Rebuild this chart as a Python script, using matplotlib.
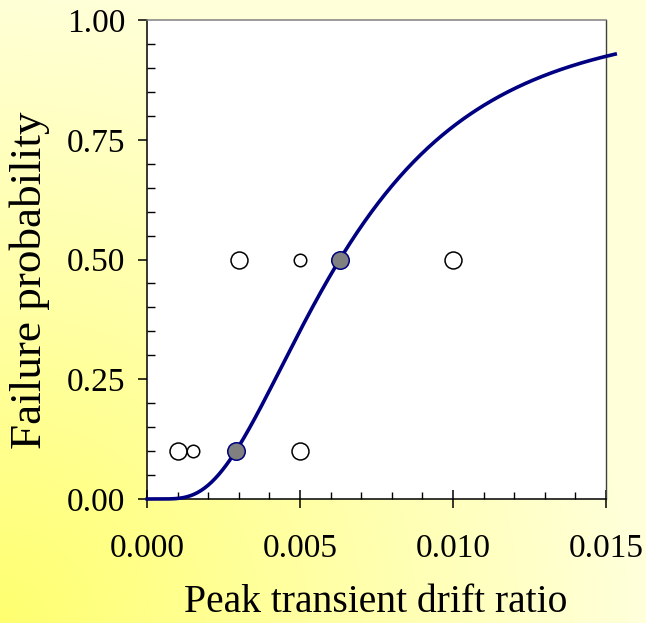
import math
import numpy as np
import matplotlib
matplotlib.use("Agg")
from matplotlib import pyplot as plt
from matplotlib.ticker import MultipleLocator, FormatStrFormatter

# observed points (drift ratio, failure probability)
big_x = [0.001, 0.003, 0.005, 0.010]
big_y = [0.10, 0.50, 0.10, 0.50]
small_x = [0.0015, 0.005]
small_y = [0.10, 0.50]
fit_x = [0.0029, 0.0063]
fit_y = [0.10, 0.50]

# lognormal fragility: median drift and log std
median = 0.0063
beta = 0.605

plt.rcParams['font.family'] = ['Liberation Serif', 'DejaVu Serif']

fig = plt.figure(figsize=(6.46, 6.23), dpi=100)

# yellow gradient background, strongest at bottom-left
h, w = 623, 646
yy, xx = np.mgrid[0:h, 0:w]
d = np.sqrt(xx ** 2 + (h - 1 - yy) ** 2)
t = np.clip(d / 640.0, 0, 1)
bg = np.zeros((h, w, 3))
bg[..., 0] = 1.0
bg[..., 1] = 1.0
bg[..., 2] = (112 + 106 * t) / 255.0
bgax = fig.add_axes([0, 0, 1, 1], zorder=-1)
bgax.imshow(bg, aspect='auto', extent=[0, 1, 0, 1])
bgax.axis('off')

ax = fig.add_axes([147 / 646, 1 - 499 / 623, 459 / 646, 479 / 623])
ax.set_facecolor('white')

x = np.linspace(0.00001, 0.0153, 400)
cdf = np.array([0.5 * (1 + math.erf(math.log(v / median) / (beta * math.sqrt(2)))) for v in x])
ax.plot(x, cdf, color='#000080', lw=2.6, clip_on=False, zorder=3)

ax.plot(big_x, big_y, 'o', ms=12.2, mfc='white', mec='black', mew=1.1, zorder=4)
ax.plot(small_x, small_y, 'o', ms=9, mfc='white', mec='black', mew=1.1, zorder=4)
ax.plot(fit_x, fit_y, 'o', ms=12.6, mfc='#808080', mec='#000080', mew=1.1, zorder=5)

ax.set_xlim(0, 0.015)
ax.set_ylim(0, 1)
ax.xaxis.set_major_locator(MultipleLocator(0.005))
ax.xaxis.set_minor_locator(MultipleLocator(0.001))
ax.yaxis.set_major_locator(MultipleLocator(0.25))
ax.yaxis.set_minor_locator(MultipleLocator(0.05))
ax.xaxis.set_major_formatter(FormatStrFormatter('%.3f'))
ax.yaxis.set_major_formatter(FormatStrFormatter('%.2f'))

ax.tick_params(axis='x', which='major', direction='inout', length=13.5, width=1.1, pad=18, labelsize=24)
ax.tick_params(axis='x', which='minor', direction='in', length=5, width=1.0)
ax.tick_params(axis='y', which='major', direction='out', length=6.5, width=1.1, pad=9, labelsize=24)
ax.tick_params(axis='y', which='minor', direction='in', length=5.5, width=1.0)

for s in ['left', 'bottom']:
    ax.spines[s].set_color('black')
    ax.spines[s].set_linewidth(1.1)
ax.spines['top'].set_color('#808080')
ax.spines['top'].set_linewidth(1.1)
ax.spines['right'].set_color('#404040')
ax.spines['right'].set_linewidth(1.0)

fig.text(376 / 646, 1 - 603 / 623, 'Peak transient drift ratio', fontsize=28.5, ha='center', va='center')
fig.text(30 / 646, 1 - 280 / 623, 'Failure probability', fontsize=32.5, rotation=90, ha='center', va='center')

fig.savefig('out.png', dpi=100)
